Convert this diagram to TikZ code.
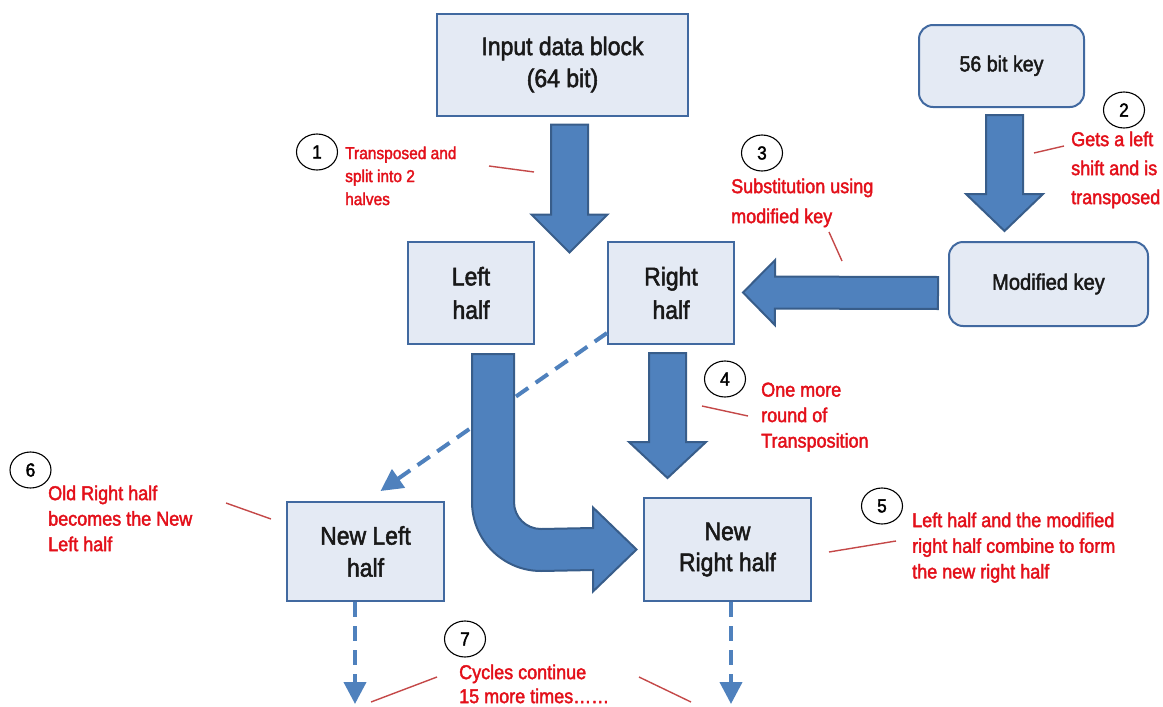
\documentclass[tikz,border=0pt]{standalone}
\usepackage{fontspec}
\setmainfont{Liberation Sans}[FakeStretch=0.9, FakeBold=2]
\usetikzlibrary{arrows.meta, positioning, calc, shapes.geometric}

\definecolor{boxfill}{RGB}{228,234,244}
\definecolor{boxline}{RGB}{65,105,160}
\definecolor{arrowfill}{RGB}{79,129,189}
\definecolor{arrowline}{RGB}{56,93,138}
\definecolor{notered}{RGB}{227,16,26}
\definecolor{leadred}{RGB}{196,72,72}

\begin{document}
\begin{tikzpicture}[x=1pt, y=-1pt,
    block/.style={rectangle, draw=boxline, fill=boxfill, line width=2pt, inner sep=0pt,
      align=center, text=black!90, font=\fontsize{25.5}{32}\selectfont},
    keybox/.style={block, rounded corners=14pt},
    note/.style={anchor=north west, inner sep=0pt, align=left, text=notered},
    num/.style={ellipse, draw=black, fill=white, line width=1.1pt, minimum width=41pt,
      minimum height=36pt, inner sep=0pt, font=\fontsize{19}{19}\selectfont},
    leader/.style={draw=leadred, line width=1.4pt},
    fatarrow/.style={draw=arrowline, fill=arrowfill, line width=2pt, line join=miter},
    fat/.style args={#1/#2/#3}{fatarrow, to path={
      ($(\tikztostart)!#1!90:(\tikztotarget)$)
      -- ($($(\tikztotarget)!#3!(\tikztostart)$)!#1!90:(\tikztotarget)$)
      -- ($($(\tikztotarget)!#3!(\tikztostart)$)!#2!90:(\tikztotarget)$)
      -- (\tikztotarget)
      -- ($($(\tikztotarget)!#3!(\tikztostart)$)!#2!-90:(\tikztotarget)$)
      -- ($($(\tikztotarget)!#3!(\tikztostart)$)!#1!-90:(\tikztotarget)$)
      -- ($(\tikztostart)!#1!-90:(\tikztotarget)$) -- cycle}},
    dasharr/.style={draw=arrowfill, line width=4pt, dash pattern=on 15pt off 9pt,
      -{Triangle[length=22pt, width=22pt]}}
  ]
    \useasboundingbox (0,0) rectangle (1163,707);

    % boxes
    \node[block, minimum width=251pt, minimum height=102pt] (input) at (562.5,64.5)
      {Input data block\\(64 bit)};
    \node[keybox, minimum width=165pt, minimum height=82pt, font=\fontsize{21.8}{26}\selectfont]
      (key) at (1001.5,66) {\raisebox{5pt}{56 bit key}};
    \node[keybox, minimum width=199pt, minimum height=84pt, font=\fontsize{22.3}{26}\selectfont]
      (modkey) at (1048.5,284) {Modified key};
    \node[block, minimum width=126pt, minimum height=102pt,
      font=\fontsize{25.5}{33.5}\selectfont] (left) at (471,293) {Left\\half};
    \node[block, minimum width=126pt, minimum height=102pt,
      font=\fontsize{25.5}{33.5}\selectfont, right=72pt of left] (right) {Right\\half};
    \node[block, minimum width=157pt, minimum height=99pt] (newleft) at (365.5,551.5)
      {New Left\\half};
    \node[block, minimum width=167pt, minimum height=103pt,
      font=\fontsize{25.5}{31}\selectfont] (newright) at (727.5,549.5) {New\\Right half};

    % block arrows
    \coordinate (a1s) at ($(input.south)+(7,8)$);
    \coordinate (a1e) at ($(input.south)+(7,136)$);
    \coordinate (a2s) at ($(key.south)+(3,7)$);
    \coordinate (a2e) at ($(key.south)+(3,123)$);
    \coordinate (a3s) at ($(modkey.west)+(-10,9)$);
    \coordinate (a3e) at ($(right.east)+(8,-0.5)$);
    \coordinate (a4s) at ($(right.south)+(-3.5,8)$);
    \coordinate (a4e) at ($(right.south)+(-3.5,133)$);
    \draw[fat=18.5pt/38pt/38pt] (a1s) to (a1e);
    \draw[fat=18.5pt/38.5pt/37pt] (a2s) to (a2e);
    \draw[fat=16pt/32.5pt/32pt] (a3s) to (a3e);
    \draw[fat=18.5pt/38.5pt/36pt] (a4s) to (a4e);

    % bent arrow from the left half
    \coordinate (cs) at ($(left.south)+(22,9)$);
    \coordinate (ce) at ($(newright.west)+(-6.5,0)$);
    \draw[fatarrow] ($(cs)+(-21,0)$) -- ++(42,0) -- ++(0,148)
      .. controls +(0,15) and +(-15,0) .. ++(27,27)
      -- ($(ce)+(-43.5,-21.5)$) -- ($(ce)+(-43.5,-42)$) -- (ce)
      -- ($(ce)+(-43.5,42)$) -- ($(ce)+(-43.5,20.5)$) -- ($(cs)+(48,217)$)
      .. controls +(-38,0) and +(0,38) .. ($(cs)+(-21,148)$) -- cycle;

    % dashed arrows
    \coordinate (d1s) at ($(right.south west)+(0,-12)$);
    \coordinate (d1e) at ($(newleft.north)+(15,-10)$);
    \coordinate (d2s) at ($(newleft.south)+(-10.5,0)$);
    \coordinate (d2e) at ($(newleft.south)+(-10.5,102)$);
    \coordinate (d3s) at ($(newright.south)+(3.5,0)$);
    \coordinate (d3e) at ($(newright.south)+(3.5,102)$);
    \draw[dasharr] (d1s) -- (d1e);
    \draw[dasharr] (d2s) -- (d2e);
    \draw[dasharr] (d3s) -- (d3e);

    % numbered steps
    \node[num] (c1) at (317,152) {1};
    \node[num] (c2) at (1124,110) {2};
    \node[num] (c3) at (762,153) {3};
    \node[num] (c4) at (725,379) {4};
    \node[num] (c5) at (882,506) {5};
    \node[num] (c6) at (30.5,470) {6};
    \node[num] (c7) at (465,639) {7};

    % notes
    \node[note, font=\fontsize{17.2}{23}\selectfont] (t1) at (345,146.4)
      {Transposed and\\split into 2\\halves};
    \node[note, font=\fontsize{20}{29}\selectfont] (t2) at (1071,131.4)
      {Gets a left\\shift and is\\transposed};
    \node[note, font=\fontsize{20}{30}\selectfont] (t3) at (731,178.4)
      {Substitution using\\modified key};
    \node[note, font=\fontsize{20}{25.5}\selectfont] (t4) at (761,382.4)
      {One more\\round of\\Transposition};
    \node[note, font=\fontsize{20}{25.7}\selectfont] (t5) at (912,512.4)
      {Left half and the modified\\right half combine to form\\the new right half};
    \node[note, font=\fontsize{20}{25.5}\selectfont] (t6) at (48,485.4)
      {Old Right half\\becomes the New\\Left half};
    \node[note, font=\fontsize{20}{24}\selectfont] (t7) at (459,664.4)
      {Cycles continue\\15 more times……};

    % leader lines
    \coordinate (l1a) at (489,166);  \coordinate (l1b) at (534,172);
    \coordinate (l2a) at (1034,153); \coordinate (l2b) at (1064,146);
    \coordinate (l3a) at (829,232);  \coordinate (l3b) at (842,261);
    \coordinate (l4a) at (702,406);  \coordinate (l4b) at (748,416);
    \coordinate (l5a) at (829,552);  \coordinate (l5b) at (896,541);
    \coordinate (l6a) at (226,503);  \coordinate (l6b) at (271,519);
    \coordinate (l7a) at (371,702);  \coordinate (l7b) at (437,677);
    \coordinate (l8a) at (639,677);  \coordinate (l8b) at (691,702);
    \foreach \i in {1,...,8}
      \draw[leader] (l\i a) -- (l\i b);
  \end{tikzpicture}
\end{document}
